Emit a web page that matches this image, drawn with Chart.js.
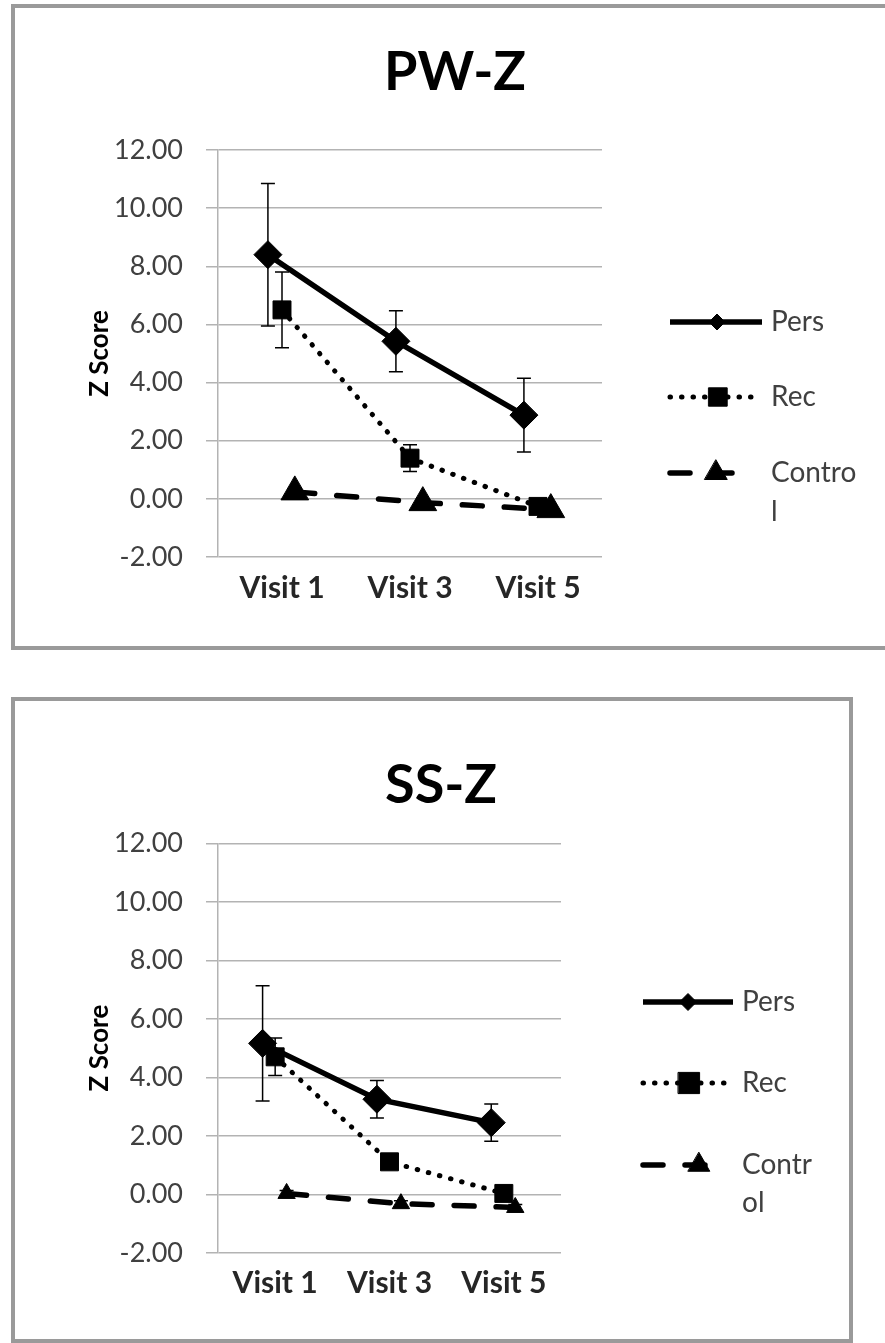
<!DOCTYPE html>
<html>
<head>
<meta charset="utf-8">
<script src="https://cdn.jsdelivr.net/npm/chart.js@4.4.1/dist/chart.umd.min.js"></script>
<style>
body{margin:0;background:#fff;}
#page{position:relative;width:885px;height:1343px;overflow:hidden;background:#fff;}
.frame{position:absolute;box-sizing:border-box;border:4px solid #9a9a9a;}
.title{position:absolute;width:200px;font-family:Lato,sans-serif;font-weight:bold;font-size:54px;line-height:54px;color:#000;text-align:center;}
canvas{position:absolute;left:0;}
</style>
</head>
<body>
<div id="page">
  <div class="frame" style="left:11px;top:4px;width:900px;height:646px;"></div>
  <div class="frame" style="left:11px;top:697px;width:842px;height:646px;"></div>
  <canvas id="pwChart" width="885" height="650" style="top:0;"></canvas>
  <canvas id="ssChart" width="885" height="646" style="top:697px;"></canvas>
  <div class="title" style="left:355px;top:43px;">PW-Z</div>
  <div class="title" style="left:341px;top:756px;">SS-Z</div>
</div>
<script>
// categories and tick labels
const visitLabels = ['Visit 1', 'Visit 3', 'Visit 5'];
const yTickValues = [-2, 0, 2, 4, 6, 8, 10, 12];
const seriesNames = ['Pers', 'Rec', 'Control'];
// legend text wraps in the original
const pwLegendText = [['Pers'], ['Rec'], ['Contro', 'l']];
const ssLegendText = [['Pers'], ['Rec'], ['Contr', 'ol']];
// small sideways shift of each series around the visit
const seriesOffset = [-0.11, 0, 0.1];

// PW-Z means and error bars
const pwPers = [8.40, 5.42, 2.88];
const pwPersErr = [2.45, 1.05, 1.27];
const pwRec = [6.50, 1.40, -0.26];
const pwRecErr = [1.30, 0.46, 0.15];
const pwControl = [0.24, -0.13, -0.37];
const pwControlErr = [0.12, 0.12, 0.12];

// SS-Z means and error bars
const ssPers = [5.16, 3.25, 2.45];
const ssPersErr = [1.97, 0.64, 0.64];
const ssRec = [4.70, 1.11, 0.03];
const ssRecErr = [0.64, 0.20, 0.10];
const ssControl = [0.03, -0.32, -0.45];
const ssControlErr = [0.10, 0.10, 0.10];

const FONT = 'Lato, "Open Sans", sans-serif';

//Error bars drawn through the chart's own scales
const errorBars = {
    id: 'errorBars',
    beforeDatasetsDraw(chart) {
        const ctx = chart.ctx;
        const xs = chart.scales.x, ys = chart.scales.y;
        ctx.save();
        ctx.strokeStyle = '#000';
        ctx.lineWidth = 1.5;
        chart.data.datasets.forEach(function(ds){
            ds.data.forEach(function(p, i){
                let e = ds.errors[i];
                let x = xs.getPixelForValue(p.x);
                let top = ys.getPixelForValue(p.y + e);
                let bot = ys.getPixelForValue(p.y - e);
                ctx.beginPath();
                ctx.moveTo(x, top); ctx.lineTo(x, bot);
                ctx.moveTo(x - 7, top); ctx.lineTo(x + 7, top);
                ctx.moveTo(x - 7, bot); ctx.lineTo(x + 7, bot);
                ctx.stroke();
            });
        });
        ctx.restore();
    }
};

//Legend on the right: line sample with marker in the middle, wrapped text
const sideLegend = {
    id: 'sideLegend',
    afterDraw(chart, args, opts) {
        const ctx = chart.ctx;
        chart.data.datasets.forEach(function(ds, i){
            let row = opts.rows[i];
            ctx.save();
            ctx.strokeStyle = '#000';
            ctx.lineWidth = ds.borderWidth;
            ctx.lineCap = ds.borderCapStyle || 'butt';
            ctx.setLineDash(ds.borderDash || []);
            ctx.beginPath();
            ctx.moveTo(opts.lineStart, row.y);
            ctx.lineTo(row.lineEnd, row.y);
            ctx.stroke();
            ctx.setLineDash([]);
            ctx.fillStyle = '#000';
            ctx.lineWidth = 1;
            Chart.helpers.drawPoint(ctx, {pointStyle: ds.pointStyle, radius: row.marker, rotation: 0, borderWidth: 1}, row.markerX, row.y);
            ctx.font = '28px ' + FONT;
            ctx.fillStyle = '#404040';
            ctx.textBaseline = 'middle';
            ctx.textAlign = 'left';
            opts.text[i].forEach(function(t, k){
                ctx.fillText(t, opts.textX, row.y + k * opts.lineGap);
            });
            ctx.restore();
        });
    }
};

function makeSeries(values, errors, idx, markerSizes) {
    let styles = [
        {borderWidth: 5.5, borderDash: [], borderCapStyle: 'butt', pointStyle: 'rectRot'},
        {borderWidth: 5, borderDash: [0.5, 11], borderCapStyle: 'round', pointStyle: 'rect'},
        {borderWidth: 5.5, borderDash: [20, 22], borderCapStyle: 'round', pointStyle: 'triangle'}
    ];
    let s = styles[idx];
    return {
        label: seriesNames[idx],
        data: values.map(function(v, i){ return {x: i + 1 + seriesOffset[idx], y: v}; }),
        errors: errors,
        borderColor: '#000',
        backgroundColor: '#000',
        borderWidth: s.borderWidth,
        borderDash: s.borderDash,
        borderCapStyle: s.borderCapStyle,
        pointStyle: s.pointStyle,
        pointRadius: markerSizes[idx],
        pointBackgroundColor: '#000',
        pointBorderColor: '#000',
        pointBorderWidth: 1,
        tension: 0,
        fill: false
    };
}

function makeChart(canvasId, datasets, padding, axisHeight, legendOpts) {
    return new Chart(document.getElementById(canvasId), {
        type: 'line',
        data: {datasets: datasets},
        options: {
            responsive: false,
            animation: false,
            devicePixelRatio: 1,
            events: [],
            layout: {padding: padding},
            plugins: {
                legend: {display: false},
                tooltip: {enabled: false},
                sideLegend: legendOpts
            },
            scales: {
                x: {
                    type: 'linear',
                    min: 0.5,
                    max: 3.5,
                    afterBuildTicks: function(s){ s.ticks = visitLabels.map(function(l, i){ return {value: i + 1}; }); },
                    afterFit: function(s){ s.height = axisHeight; },
                    ticks: {
                        autoSkip: false,
                        maxRotation: 0,
                        padding: 5,
                        color: '#262626',
                        font: {family: FONT, size: 30, weight: 'bold'},
                        callback: function(v){ return visitLabels[Math.round(v) - 1]; }
                    },
                    grid: {display: false},
                    border: {display: false}
                },
                y: {
                    min: -2,
                    max: 12,
                    afterBuildTicks: function(s){ s.ticks = yTickValues.map(function(v){ return {value: v}; }); },
                    afterFit: function(s){ s.width = 218; },
                    ticks: {
                        padding: 23,
                        color: '#404040',
                        font: {family: FONT, size: 27},
                        callback: function(v){ return v.toFixed(2); }
                    },
                    grid: {color: '#b3b3b3', lineWidth: 1.5, tickLength: 12},
                    border: {color: '#b3b3b3', width: 1.5},
                    title: {
                        display: true,
                        text: 'Z Score',
                        color: '#000',
                        font: {family: FONT, size: 26, weight: 'bold'},
                        padding: {top: 84.4, bottom: 0}
                    }
                }
            }
        },
        plugins: [errorBars, sideLegend]
    });
}

makeChart('pwChart', [
    makeSeries(pwPers, pwPersErr, 0, [14, 12.7, 16]),
    makeSeries(pwRec, pwRecErr, 1, [14, 12.7, 16]),
    makeSeries(pwControl, pwControlErr, 2, [14, 12.7, 16])
], {left: 0, top: 150, right: 283, bottom: 0}, 93, {
    lineStart: 670, textX: 771, lineGap: 39, text: pwLegendText,
    rows: [
        {y: 322, lineEnd: 762, markerX: 717, marker: 8},
        {y: 397, lineEnd: 757, markerX: 718, marker: 13},
        {y: 473, lineEnd: 742, markerX: 716, marker: 13}
    ]
});

makeChart('ssChart', [
    makeSeries(ssPers, ssPersErr, 0, [14, 12.7, 10]),
    makeSeries(ssRec, ssRecErr, 1, [14, 12.7, 10]),
    makeSeries(ssControl, ssControlErr, 2, [14, 12.7, 10])
], {left: 0, top: 146.3, right: 324, bottom: 0}, 90.2, {
    lineStart: 643, textX: 742, lineGap: 38, text: ssLegendText,
    rows: [
        {y: 305, lineEnd: 733, markerX: 688, marker: 8.5},
        {y: 386, lineEnd: 727, markerX: 689, marker: 15},
        {y: 468, lineEnd: 713, markerX: 699, marker: 12.5}
    ]
});
</script>
</body>
</html>
